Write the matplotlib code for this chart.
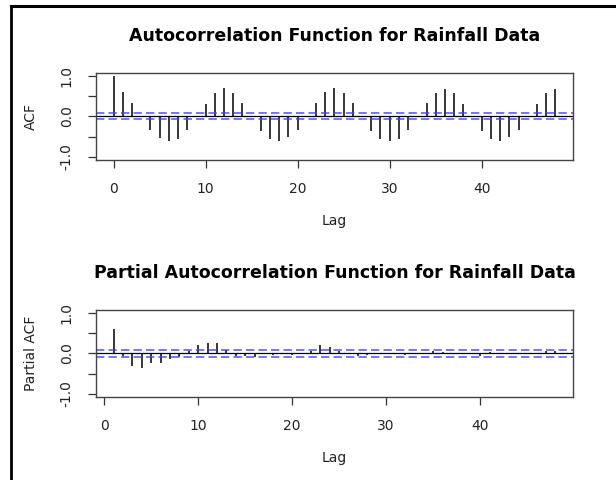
# acf / pacf plots for the monthly rainfall series, drawn R-style
import matplotlib
matplotlib.use('Agg')
import matplotlib.pyplot as plt
from matplotlib.lines import Line2D

plt.rcParams['font.family'] = ['DejaVu Sans']

# ---- data ----
acf_lags = list(range(0, 49))
acf_vals = [1.00, 0.61, 0.33, 0.02, -0.33, -0.54, -0.62, -0.56, -0.33, 0.02,
            0.32, 0.58, 0.70, 0.58, 0.33, 0.02, -0.36, -0.56, -0.62, -0.52,
            -0.33, 0.02, 0.33, 0.61, 0.70, 0.58, 0.33, 0.02, -0.36, -0.57,
            -0.61, -0.56, -0.33, 0.02, 0.33, 0.58, 0.67, 0.58, 0.32, 0.02,
            -0.36, -0.56, -0.61, -0.52, -0.33, 0.02, 0.32, 0.58, 0.67]

pacf_lags = list(range(1, 49))
pacf_vals = [0.62, -0.05, -0.30, -0.36, -0.23, -0.23, -0.13, -0.08, 0.05, 0.21,
             0.27, 0.27, 0.08, -0.05, -0.05, -0.08, -0.02, -0.03, 0.02, -0.03,
             0.02, 0.05, 0.20, 0.17, 0.07, -0.02, -0.05, -0.03, -0.02, 0.01,
             -0.01, -0.03, 0.01, -0.01, 0.07, 0.04, 0.01, -0.01, 0.02, -0.07,
             0.03, 0.02, -0.02, 0.01, -0.01, 0.01, 0.05, 0.07]

conf = 0.075   # 1.96 / sqrt(n)

y_ticks = [-1.0, -0.5, 0.0, 0.5, 1.0]
y_ticklabels = ['-1.0', '', '0.0', '', '1.0']
x_ticks = [0, 10, 20, 30, 40]

TXT = '#222222'


def corr_panel(ax, lags, vals, title, ylabel):
    """One correlogram: spikes, zero line and dashed significance band"""
    ax.vlines(lags, 0, vals, color='black', lw=1.1)
    ax.axhline(0, color='black', lw=0.9)
    ax.axhline(conf, color='#4040ff', lw=1.2, dashes=(5, 2.5), alpha=0.85)
    ax.axhline(-conf, color='#4040ff', lw=1.2, dashes=(5, 2.5), alpha=0.85)

    lo, hi = lags[0], lags[-1]
    ext = (hi - lo) * 0.04
    ax.set_xlim(lo - ext, hi + ext)
    ax.set_ylim(-1.08, 1.08)

    ax.set_xticks(x_ticks)
    ax.set_yticks(y_ticks)
    ax.set_yticklabels(y_ticklabels, rotation=90, va='center')
    ax.tick_params(direction='out', length=6, width=0.9, color='#333333',
                   labelsize=10, labelcolor=TXT, pad=10)

    for s in ax.spines.values():
        s.set_color('#444444')
        s.set_linewidth(1.0)

    ax.set_title(title, fontsize=12.5, fontweight='bold', pad=23)
    ax.set_xlabel('Lag', fontsize=10, color=TXT, labelpad=13)
    ax.set_ylabel(ylabel, fontsize=10, color=TXT, labelpad=16)


fig = plt.figure(figsize=(6.16, 4.8), dpi=100)
ax1 = fig.add_axes([0.1558, 0.6667, 0.7744, 0.1813])
ax2 = fig.add_axes([0.1558, 0.1729, 0.7744, 0.1813])

corr_panel(ax1, acf_lags, acf_vals,
           'Autocorrelation Function for Rainfall Data', 'ACF')
corr_panel(ax2, pacf_lags, pacf_vals,
           'Partial Autocorrelation Function for Rainfall Data', 'Partial ACF')

# frame lines along the top and left edge
fig.add_artist(Line2D([0.0179, 1.0], [0.9875, 0.9875], color='black', lw=2.2))
fig.add_artist(Line2D([0.0179, 0.0179], [0.0, 0.9875], color='black', lw=2.0))

fig.savefig('out.png', dpi=100)
